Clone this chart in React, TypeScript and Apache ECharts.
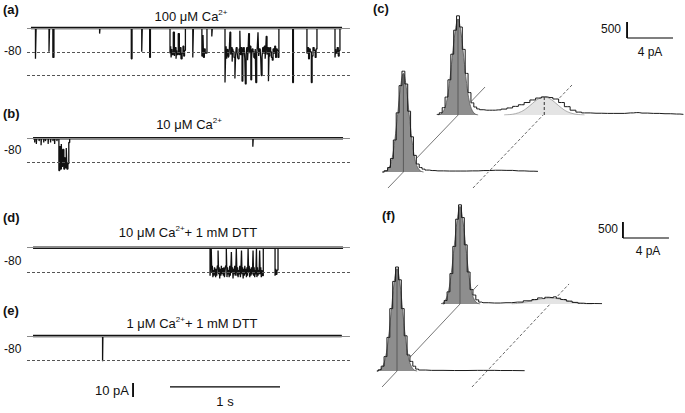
import React, { useEffect, useRef } from 'react';
import * as echarts from 'echarts';

type P = [number, number];

// ---------------- trace data: change points [time (s), current (pA)] ----------------
const OPEN_1 = -17.2;
const OPEN_2 = -34;

const TRACE_A: P[] = [
  [0.036, 0], [0.077, -22], [0.083, 0], [0.2, -17], [0.205, 0],
  [0.235, -21], [0.245, 0], [0.66, -4], [0.664, 0], [0.948, -22], [0.955, 0],
  [1.043, -17], [1.048, 0], [1.115, -21], [1.122, 0],
  [1.3, -18], [1.306, -13], [1.31, -21], [1.316, -15], [1.32, -19], [1.33, -3], [1.34, -20],
  [1.346, -14], [1.355, -22], [1.36, -16], [1.365, -19], [1.375, -4], [1.385, -19], [1.392, -14],
  [1.4, -22], [1.41, -18], [1.418, -13], [1.425, -20], [1.432, -16], [1.44, 0],
  [1.507, -21], [1.513, 0], [1.59, -20], [1.6, -5], [1.605, -21], [1.612, -15], [1.62, -18], [1.636, 0],
  [1.68, -6], [1.685, 0],
  [1.8, -39], [1.806, -18], [1.81, -13], [1.815, -22], [1.82, -16], [1.825, -15], [1.83, -21], [1.835, -20],
  [1.84, -14], [1.845, -3], [1.852, -19], [1.858, -14], [1.865, -24], [1.87, -15], [1.875, -17],
  [1.882, -21], [1.89, -36], [1.896, -20], [1.902, -14], [1.91, -17], [1.915, -21], [1.92, -22],
  [1.928, -15], [1.935, -2], [1.94, -19], [1.947, -14], [1.955, -38], [1.962, -21], [1.968, -14],
  [1.975, -16], [1.98, -22], [1.985, -40], [1.992, -19], [1.998, -14], [2.005, -23], [2.01, -16],
  [2.015, -4], [2.022, -18], [2.028, -13], [2.035, -37], [2.042, -21], [2.048, -15], [2.055, -17],
  [2.062, -21], [2.07, -22], [2.075, -15], [2.08, -39], [2.088, -18], [2.094, -13], [2.1, -3],
  [2.106, -20], [2.112, -15], [2.12, -16], [2.125, -22], [2.13, -34], [2.137, -21], [2.143, -14],
  [2.15, -18], [2.157, -13], [2.165, -22], [2.17, -16], [2.175, -6], [2.182, -19], [2.188, -14],
  [2.195, -38], [2.2, -20], [2.207, -14], [2.215, -17], [2.222, -21], [2.23, -23], [2.237, -15],
  [2.245, -18], [2.252, -13], [2.26, -21], [2.267, -15], [2.275, -16], [2.282, -21], [2.29, 0],
  [2.415, -39], [2.422, 0],
  [2.545, -18], [2.552, -14], [2.56, -22], [2.567, -15], [2.575, -17], [2.585, -39], [2.592, -20],
  [2.6, -14], [2.61, -16], [2.62, -21], [2.628, -15], [2.636, 0],
  [2.8, -21], [2.806, -15], [2.81, -18], [2.82, -14], [2.83, -20], [2.838, -16], [2.845, 0], [2.864, 0],
];

const TRACE_B: P[] = [
  [0.055, 0], [0.07, -3], [0.073, 0], [0.085, -4], [0.088, 0], [0.11, -2], [0.113, 0], [0.128, -5],
  [0.131, 0], [0.152, -3], [0.155, 0], [0.168, -2], [0.171, 0], [0.192, -4], [0.195, 0], [0.214, -3],
  [0.217, 0], [0.236, -2], [0.239, 0], [0.251, -4], [0.254, 0], [0.272, -2], [0.275, 0],
  [0.29, -23], [0.297, -6], [0.305, -22], [0.312, -4], [0.318, -20], [0.325, -8], [0.335, -22],
  [0.343, -14], [0.35, -21], [0.357, -7], [0.363, -22], [0.372, -18], [0.38, -3], [0.388, 0],
  [2.053, -6], [2.057, 0], [2.873, 0],
];

const TRACE_D: P[] = [
  [0.055, 0],
  [1.664, -20], [1.668, -14], [1.675, -1], [1.68, -18], [1.685, -13], [1.69, -21], [1.695, -16],
  [1.7, -20], [1.705, -14], [1.71, -16], [1.715, -21], [1.72, -15], [1.725, -20], [1.73, -13],
  [1.737, -2], [1.742, -19], [1.747, -14], [1.752, -22], [1.757, -15], [1.762, -20], [1.767, -13],
  [1.772, -19], [1.777, -15], [1.785, -20], [1.79, -14], [1.795, -21], [1.8, -17], [1.805, -13],
  [1.812, -1], [1.818, -21], [1.823, -14], [1.828, -19], [1.833, -16], [1.838, -21], [1.843, -13],
  [1.848, -20], [1.853, -15], [1.858, -3], [1.863, -18], [1.868, -14], [1.873, -22], [1.878, -15],
  [1.883, -19], [1.888, -13], [1.893, -20], [1.898, -16], [1.903, -1], [1.909, -20], [1.914, -14],
  [1.919, -21], [1.924, -16], [1.929, -19], [1.934, -13], [1.94, -21], [1.945, -15], [1.95, -2],
  [1.955, -19], [1.96, -14], [1.965, -22], [1.97, -15], [1.975, -20], [1.98, -13], [1.985, -19],
  [1.99, -15], [1.995, -21], [2.0, -14], [2.005, -20], [2.01, -1], [2.015, -18], [2.02, -13],
  [2.025, -21], [2.03, -15], [2.035, -20], [2.04, -14], [2.045, -19], [2.05, -16], [2.055, -2],
  [2.06, -20], [2.065, -14], [2.07, -21], [2.075, -16], [2.08, -19], [2.086, -1], [2.09, -21],
  [2.095, -14], [2.1, -20], [2.105, -16], [2.11, -19], [2.115, -2], [2.12, -19], [2.125, -14],
  [2.13, -21], [2.135, -16], [2.14, -20], [2.148, 0],
  [2.255, -20], [2.26, -15], [2.265, -19], [2.272, -16], [2.282, 0],
  [2.873, 0],
];

const TRACE_E: P[] = [
  [0.055, 0], [0.687, -18], [0.69, 0], [2.861, 0],
];

const TRACE_TITLES = ['100 μM Ca', '10 μM Ca', '10 μM Ca', '1 μM Ca'];
const TRACE_SUFFIX = ['', '', '+ 1 mM DTT', '+ 1 mM DTT'];
const TRACE_LETTERS = ['(a)', '(b)', '(d)', '(e)'];
const HOLD_LABEL = '-80';

// scale bars (trace e): 10 pA, 1 s
const SCALE_PA = 10;
const SCALE_S = 1;

// ---------------- histogram data: [current (pA), counts] ----------------
const C_BACK_OUTLINE: P[] = [
  [-1.85, 0], [-1.75, 20], [-1.5, 70], [-1.25, 230], [-1.0, 560], [-0.75, 1100], [-0.5, 1900],
  [-0.25, 2650], [0, 3100], [0.25, 2750], [0.5, 2050], [0.75, 1300], [1.0, 700], [1.25, 380],
  [1.5, 250], [1.75, 190], [2.0, 165], [2.5, 150], [3.0, 150], [3.5, 160], [4.0, 185], [4.5, 220],
  [5.0, 270], [5.5, 320], [6.0, 390], [6.5, 470], [7.0, 530], [7.5, 565], [8.0, 545], [8.5, 500],
  [9.0, 390], [9.5, 260], [10.0, 150], [10.5, 90], [11, 65], [12, 55], [13, 50], [14, 50],
  [15, 65], [15.5, 75], [16, 60], [17, 50], [18, 40], [19, 30], [19.6, 20],
];
const C_BACK_FIT: P[] = [
  [-1.75, 0], [-1.5, 30], [-1.25, 130], [-1.0, 400], [-0.75, 980], [-0.5, 1800], [-0.25, 2600],
  [0, 3000], [0.25, 2600], [0.5, 1800], [0.75, 980], [1.0, 400], [1.25, 130], [1.5, 30], [1.75, 0],
];
const C_BACK_OPEN_FIT: P[] = [
  [4.0, 0], [4.5, 13], [5.0, 42], [5.5, 105], [6.0, 220], [6.5, 370], [7.0, 505], [7.5, 560],
  [8.0, 505], [8.5, 370], [9.0, 220], [9.5, 105], [10.0, 42], [10.5, 13], [11.0, 0],
];
const C_FRONT_OUTLINE: P[] = [
  [-1.85, 0], [-1.5, 40], [-1.25, 140], [-1.0, 420], [-0.75, 1000], [-0.5, 1850], [-0.25, 2700],
  [0, 3150], [0.25, 2750], [0.5, 1900], [0.75, 1100], [1.0, 520], [1.25, 250], [1.5, 140],
  [1.75, 90], [2.0, 60], [2.5, 45], [3, 35], [4, 30], [5, 30], [6, 35], [7, 45], [8, 55], [9, 50],
  [10, 35], [11, 25], [11.7, 20],
];
const C_FRONT_FIT: P[] = [
  [-1.75, 0], [-1.5, 30], [-1.25, 130], [-1.0, 400], [-0.75, 980], [-0.5, 1800], [-0.25, 2650],
  [0, 3080], [0.25, 2650], [0.5, 1800], [0.75, 980], [1.0, 400], [1.25, 130], [1.5, 30], [1.75, 0],
];
const C_DIAG_SOLID: P[] = [[-1.34, -500], [7.1, 2656]];
const C_DIAG_DASH: P[] = [[6.05, -500], [14.66, 2719]];

const F_BACK_OUTLINE: P[] = [
  [-1.5, 0], [-1.25, 110], [-1.0, 380], [-0.75, 950], [-0.5, 1800], [-0.25, 2650], [0, 3100],
  [0.25, 2700], [0.5, 1850], [0.75, 1000], [1.0, 450], [1.25, 280], [1.5, 130], [1.75, 60],
  [2.0, 40], [3, 30], [4, 40], [5, 60], [6, 100], [6.5, 140], [7.0, 190], [7.25, 170], [7.5, 210],
  [8.0, 200], [8.25, 225], [8.5, 180], [9.0, 140], [9.5, 90], [10, 50], [10.5, 25], [11, 15],
  [12.35, 10],
];
const F_BACK_FIT: P[] = [
  [-1.75, 0], [-1.5, 30], [-1.25, 130], [-1.0, 400], [-0.75, 980], [-0.5, 1800], [-0.25, 2600],
  [0, 3050], [0.25, 2600], [0.5, 1800], [0.75, 980], [1.0, 400], [1.25, 130], [1.5, 30], [1.75, 0],
];
const F_BACK_OPEN_FIT: P[] = [
  [4.5, 0], [5, 20], [5.5, 45], [6, 80], [6.5, 120], [7, 155], [7.5, 178], [7.9, 182], [8.5, 165],
  [9, 130], [9.5, 85], [10, 45], [10.5, 20], [11, 5], [11.5, 0],
];
const F_FRONT_OUTLINE: P[] = [
  [-1.75, 0], [-1.5, 40], [-1.25, 150], [-1.0, 450], [-0.75, 1050], [-0.5, 1950], [-0.25, 2800],
  [0, 3250], [0.25, 2850], [0.5, 1950], [0.75, 1100], [1.0, 500], [1.25, 300], [1.5, 150],
  [1.75, 60], [2, 30], [3, 20], [5, 15], [7, 20], [8, 20], [9, 15], [11.1, 10],
];
const F_FRONT_FIT: P[] = [
  [-1.75, 0], [-1.5, 30], [-1.25, 140], [-1.0, 420], [-0.75, 1000], [-0.5, 1850], [-0.25, 2750],
  [0, 3200], [0.25, 2750], [0.5, 1850], [0.75, 1000], [1.0, 420], [1.25, 140], [1.5, 30], [1.75, 0],
];
const F_DIAG_SOLID: P[] = [[-1.3, -500], [7.04, 2690]];
const F_DIAG_DASH: P[] = [[6.52, -500], [14.96, 2720]];

const HIST_SCALE_COUNTS = 500;
const HIST_SCALE_PA = 4;

// ---------------- layout (pixels) ----------------
const PX_S = 110;
const PX_PA_TRACE = 1.4;
const PX_PA_HIST = 11.5;
const PX_COUNT = 0.032;
const TRACE_LEFT = 27;
const TRACE_TMAX = 2.936;
const TRACE_YMIN = -40;
const TRACE_YMAX = 4;
const TRACE_BASELINES = [28, 138.3, 247.7, 336];
const TITLE_POS = [[191, 16], [189, 124], [188, 232], [192, 323]];
const LETTER_Y = [9, 113, 217, 310];
const HOLD_Y = [51, 150, 261, 349];

const FONT = '"Liberation Sans", Arial, Helvetica, sans-serif';

function histGrid(zeroX: number, zeroY: number, xmin: number, xmax: number, ymin: number, ymax: number) {
  return {
    grid: {
      left: zeroX + xmin * PX_PA_HIST,
      top: zeroY - ymax * PX_COUNT,
      width: (xmax - xmin) * PX_PA_HIST,
      height: (ymax - ymin) * PX_COUNT,
      containLabel: false,
    },
    x: { min: xmin, max: xmax },
    y: { min: ymin, max: ymax },
  };
}

const maxOf = (d: P[]) => d.reduce((m, p) => (p[1] > m[1] ? p : m), d[0]);

export default function App() {
  const ref = useRef<HTMLDivElement>(null);
  useEffect(() => {
    if (!ref.current) return;
    const chart = echarts.init(ref.current, undefined, { renderer: 'svg' });

    const grids: any[] = [];
    const xAxes: any[] = [];
    const yAxes: any[] = [];
    const series: any[] = [];
    const hidden = { show: false };

    const addGrid = (g: any, x: any, y: any) => {
      grids.push(g);
      const i = grids.length - 1;
      xAxes.push({ type: 'value', gridIndex: i, min: x.min, max: x.max, ...hidden });
      yAxes.push({ type: 'value', gridIndex: i, min: y.min, max: y.max, ...hidden });
      return i;
    };

    // traces
    const traces = [TRACE_A, TRACE_B, TRACE_D, TRACE_E];
    traces.forEach((tr, k) => {
      const base = TRACE_BASELINES[k];
      const gi = addGrid(
        {
          left: TRACE_LEFT,
          top: base - TRACE_YMAX * PX_PA_TRACE,
          width: TRACE_TMAX * PX_S,
          height: (TRACE_YMAX - TRACE_YMIN) * PX_PA_TRACE,
        },
        { min: 0, max: TRACE_TMAX },
        { min: TRACE_YMIN, max: TRACE_YMAX }
      );
      const levels = k === 0 ? [OPEN_1, OPEN_2] : [OPEN_1];
      series.push({
        type: 'line',
        xAxisIndex: gi,
        yAxisIndex: gi,
        data: [[0, 0]],
        symbol: 'none',
        z: 1,
        lineStyle: { width: 0 },
        markLine: {
          silent: true,
          symbol: 'none',
          label: { show: false },
          data: [
            { yAxis: 0, lineStyle: { color: '#8a8a8a', type: 'solid', width: 1 } },
            ...levels.map((l) => ({ yAxis: l, lineStyle: { color: '#555', type: [3, 2], width: 1 } })),
          ],
        },
      });
      // closed-level noise band
      series.push({
        type: 'line',
        xAxisIndex: gi,
        yAxisIndex: gi,
        data: [[tr[0][0], 0], [tr[tr.length - 1][0], 0]],
        symbol: 'none',
        z: 2,
        lineStyle: { color: '#1a1a1a', width: 2.6 },
      });
      series.push({
        type: 'line',
        xAxisIndex: gi,
        yAxisIndex: gi,
        data: tr,
        step: 'end',
        symbol: 'none',
        z: 3,
        lineStyle: { color: '#111', width: 1.3 },
      });
      if (k === 3) {
        // scale bars
        const t0 = 0.964;
        const yTop = -33.6;
        series.push({
          type: 'line', xAxisIndex: gi, yAxisIndex: gi, symbol: 'none', clip: false, z: 4,
          data: [[t0, yTop], [t0, yTop - SCALE_PA]],
          lineStyle: { color: '#000', width: 1.8 },
        });
        series.push({
          type: 'line', xAxisIndex: gi, yAxisIndex: gi, symbol: 'none', clip: false, z: 4,
          data: [[1.3, -36.4], [1.3 + SCALE_S, -36.4]],
          lineStyle: { color: '#000', width: 1.3 },
        });
      }
    });

    // histograms
    const addHist = (
      gi: number,
      outline: P[],
      fit: P[],
      open?: P[],
      openMarker?: boolean
    ) => {
      series.push({
        type: 'line', xAxisIndex: gi, yAxisIndex: gi, data: outline, step: 'middle', symbol: 'none',
        z: 2, lineStyle: { width: 0 }, areaStyle: { color: '#fff', opacity: 1 },
      });
      if (open) {
        series.push({
          type: 'line', xAxisIndex: gi, yAxisIndex: gi, data: open, smooth: 0.4, symbol: 'none',
          z: 3, lineStyle: { color: '#999', width: 0.8 }, areaStyle: { color: '#e4e4e4', opacity: 1 },
        });
        if (openMarker) {
          const pk = maxOf(open);
          series.push({
            type: 'line', xAxisIndex: gi, yAxisIndex: gi, data: [[pk[0], 0], pk], symbol: 'none', z: 5,
            lineStyle: { color: '#333', width: 1, type: [3, 2] },
          });
        }
      }
      series.push({
        type: 'line', xAxisIndex: gi, yAxisIndex: gi, data: fit, smooth: 0.4, symbol: 'none',
        z: 3, lineStyle: { color: '#555', width: 0.8 }, areaStyle: { color: '#8e8e8e', opacity: 1 },
      });
      series.push({
        type: 'line', xAxisIndex: gi, yAxisIndex: gi, data: outline, step: 'middle', symbol: 'none',
        z: 4, lineStyle: { color: '#1a1a1a', width: 1 },
      });
      const pk = maxOf(fit);
      series.push({
        type: 'line', xAxisIndex: gi, yAxisIndex: gi, data: [[pk[0], 0], pk], symbol: 'none', z: 5,
        lineStyle: { color: '#5a5a5a', width: 1 },
      });
    };
    const addDiag = (gi: number, solid: P[], dash: P[]) => {
      series.push({
        type: 'line', xAxisIndex: gi, yAxisIndex: gi, data: solid, symbol: 'none', clip: false, z: 1,
        lineStyle: { color: '#777', width: 1 },
      });
      series.push({
        type: 'line', xAxisIndex: gi, yAxisIndex: gi, data: dash, symbol: 'none', clip: false, z: 1,
        lineStyle: { color: '#666', width: 1, type: [3, 2] },
      });
    };
    const addHistScale = (gi: number, x0: number, y0: number) => {
      series.push({
        type: 'line', xAxisIndex: gi, yAxisIndex: gi, symbol: 'none', clip: false, z: 4,
        data: [[x0, y0], [x0, y0 + HIST_SCALE_COUNTS]], lineStyle: { color: '#000', width: 1.8 },
      });
      series.push({
        type: 'line', xAxisIndex: gi, yAxisIndex: gi, symbol: 'none', clip: false, z: 4,
        data: [[x0, y0], [x0 + HIST_SCALE_PA, y0]], lineStyle: { color: '#000', width: 1.2 },
      });
    };

    // (c)
    const cb = histGrid(458, 115, -2, 19.6, 0, 3300);
    const cBack = addGrid(cb.grid, cb.x, cb.y);
    const cf = histGrid(403.4, 172, -2, 15, -520, 3300);
    const cFront = addGrid(cf.grid, cf.x, cf.y);
    addDiag(cFront, C_DIAG_SOLID, C_DIAG_DASH);
    addHist(cBack, C_BACK_OUTLINE, C_BACK_FIT, C_BACK_OPEN_FIT, true);
    addHist(cFront, C_FRONT_OUTLINE, C_FRONT_FIT);
    addHistScale(cBack, 14.7, 2406);

    // (f)
    const fb = histGrid(460, 304, -1.6, 19, 0, 3300);
    const fBack = addGrid(fb.grid, fb.x, fb.y);
    const ff = histGrid(397, 371, -2, 15, -520, 3400);
    const fFront = addGrid(ff.grid, ff.x, ff.y);
    addDiag(fFront, F_DIAG_SOLID, F_DIAG_DASH);
    addHist(fBack, F_BACK_OUTLINE, F_BACK_FIT, F_BACK_OPEN_FIT, false);
    addHist(fFront, F_FRONT_OUTLINE, F_FRONT_FIT);
    addHistScale(fBack, 14.17, 2062);

    const txt = (text: string, x: number, y: number, opts: any = {}) => ({
      type: 'text',
      x,
      y,
      silent: true,
      style: {
        text,
        fill: '#111',
        font: `${opts.bold ? 'bold ' : ''}${opts.size || 12}px ${FONT}`,
        align: opts.align || 'left',
        verticalAlign: 'middle',
        ...(opts.rich ? { rich: opts.rich } : {}),
      },
    });

    const rich = {
      m: { fontSize: 13, fontFamily: FONT, lineHeight: 16, fill: '#111', color: '#111' },
      s: { fontSize: 8, fontFamily: FONT, lineHeight: 9, verticalAlign: 'top', fill: '#111', color: '#111' },
    };

    const graphics: any[] = [];
    TRACE_TITLES.forEach((t, k) => {
      const s = `{m|${t}}{s|2+}` + (TRACE_SUFFIX[k] ? `{m|${TRACE_SUFFIX[k]}}` : '');
      graphics.push(txt(s, TITLE_POS[k][0], TITLE_POS[k][1], { size: 13, align: 'center', rich }));
      graphics.push(txt(TRACE_LETTERS[k], 3, LETTER_Y[k], { size: 13, bold: true }));
      graphics.push(txt(HOLD_LABEL, 4, HOLD_Y[k], { size: 12 }));
    });
    graphics.push(txt('(c)', 373, 8, { size: 13, bold: true }));
    graphics.push(txt('(f)', 382, 215, { size: 13, bold: true }));
    graphics.push(txt(`${SCALE_PA} pA`, 129, 390, { size: 13, align: 'right' }));
    graphics.push(txt(`${SCALE_S} s`, 225, 401, { size: 13, align: 'center' }));
    graphics.push(txt(`${HIST_SCALE_COUNTS}`, 621, 29, { size: 12, align: 'right' }));
    graphics.push(txt(`${HIST_SCALE_PA} pA`, 650, 52, { size: 12, align: 'center' }));
    graphics.push(txt(`${HIST_SCALE_COUNTS}`, 618, 229, { size: 12, align: 'right' }));
    graphics.push(txt(`${HIST_SCALE_PA} pA`, 648, 251, { size: 12, align: 'center' }));

    chart.setOption({
      animation: false,
      backgroundColor: '#fff',
      grid: grids,
      xAxis: xAxes,
      yAxis: yAxes,
      series,
      graphic: { elements: graphics },
    });
    return () => chart.dispose();
  }, []);
  return (
    <div
      ref={ref}
      style={{ position: 'absolute', left: 0, top: 0, width: 685, height: 413, background: '#fff' }}
    />
  );
}
